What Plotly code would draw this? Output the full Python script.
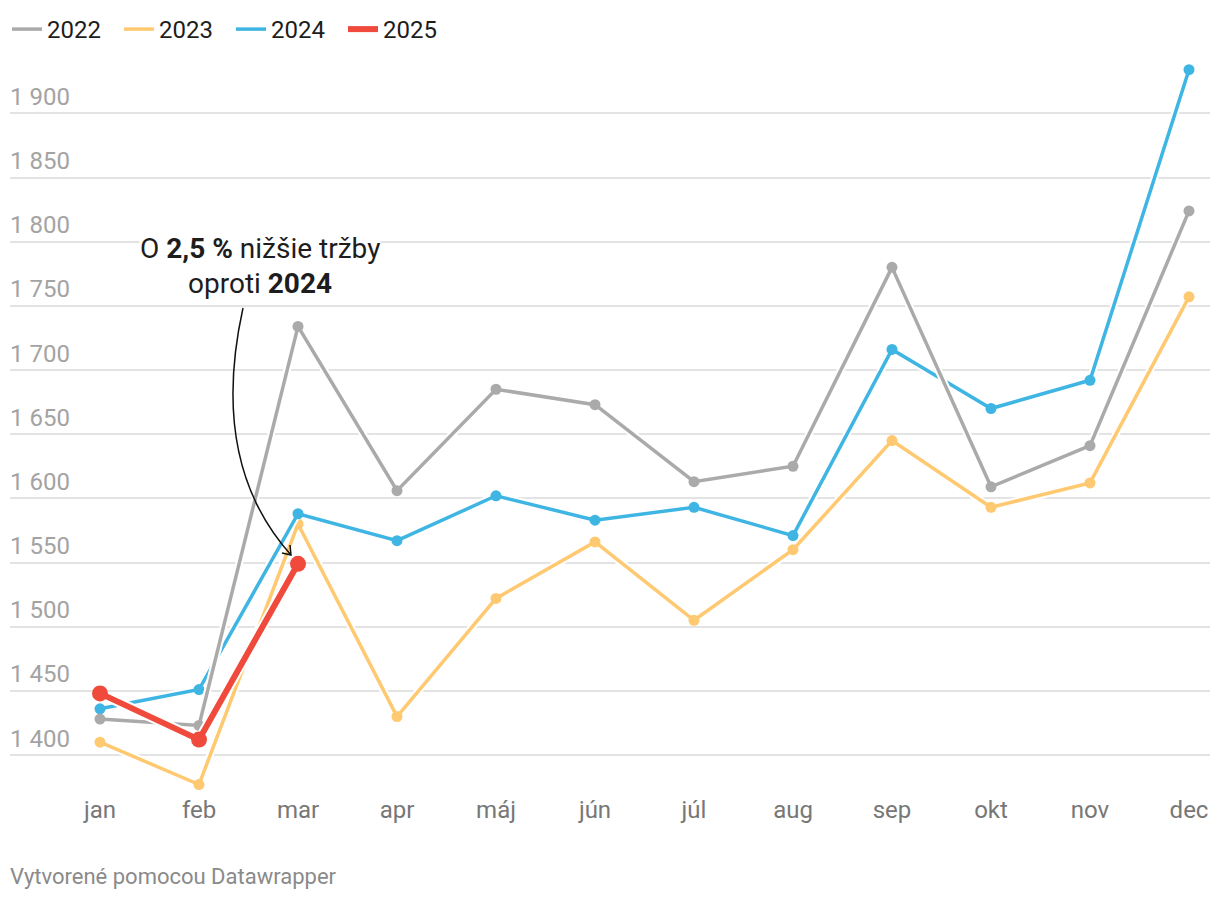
import plotly.graph_objects as go

months = ["jan", "feb", "mar", "apr", "máj", "jún", "júl", "aug", "sep", "okt", "nov", "dec"]
y2022 = [1428, 1423, 1734, 1606, 1685, 1673, 1613, 1625, 1780, 1609, 1641, 1824]
y2023 = [1410, 1377, 1580, 1430, 1522, 1566, 1505, 1560, 1645, 1593, 1612, 1757]
y2024 = [1436, 1451, 1588, 1567, 1602, 1583, 1593, 1571, 1716, 1670, 1692, 1934]
y2025 = [1448, 1412, 1549]
ytick_vals = [1400, 1450, 1500, 1550, 1600, 1650, 1700, 1750, 1800, 1850, 1900]
ytick_text = ["1 400", "1 450", "1 500", "1 550", "1 600", "1 650", "1 700", "1 750", "1 800", "1 850", "1 900"]

W, H = 1220, 900
ML, MR, MT, MB = 10, 10, 60, 110
PW, PH = W - ML - MR, H - MT - MB

def px(xp, yp):
    return (xp - ML) / PW, (H - MB - yp) / PH

FONT = "Roboto"
xs = list(range(len(months)))

series = [
    ("2023", y2023, "#fec970", 3.5, 11),
    ("2024", y2024, "#3fb5e3", 3.5, 11),
    ("2022", y2022, "#aaaaaa", 3.5, 11),
    ("2025", y2025, "#ef4a3b", 6, 16),
]
rank = {"2022": 1, "2023": 2, "2024": 3, "2025": 4}

fig = go.Figure()
for name, vals, col, lw, ms in series:
    xv = xs[:len(vals)]
    fig.add_trace(go.Scatter(x=xv, y=vals, mode="lines", line=dict(color="white", width=lw + 4),
                             showlegend=False, hoverinfo="skip", cliponaxis=False))
    fig.add_trace(go.Scatter(x=xv, y=vals, mode="lines", name=name,
                             line=dict(color=col, width=lw), cliponaxis=False, legendrank=rank[name]))
    fig.add_trace(go.Scatter(x=xv, y=vals, mode="markers", showlegend=False,
                             marker=dict(color=col, size=ms), cliponaxis=False))

# curved arrow (annotation)
p0 = px(243, 308); p1 = px(226, 385); p2 = px(224, 480); p3 = px(291, 555)
a1 = px(290, 545); a2 = px(282, 553)
path = (f"M {p0[0]},{p0[1]} C {p1[0]},{p1[1]} {p2[0]},{p2[1]} {p3[0]},{p3[1]} "
        f"M {a1[0]},{a1[1]} L {p3[0]},{p3[1]} L {a2[0]},{a2[1]}")
fig.add_shape(type="path", path=path, xref="paper", yref="paper",
              line=dict(color="#111111", width=1.5), layer="above")

l1 = px(260, 248); l2 = px(260, 283)
fig.add_annotation(xref="paper", yref="paper", x=l1[0], y=l1[1], xanchor="center", yanchor="middle",
                   text="O <b>2,5 %</b> nižšie tržby", showarrow=False, bgcolor="white", borderpad=0,
                   font=dict(family=FONT, size=28, color="#1d1d1d"))
fig.add_annotation(xref="paper", yref="paper", x=l2[0], y=l2[1], xanchor="center", yanchor="middle",
                   text="oproti <b>2024</b>", showarrow=False,
                   font=dict(family=FONT, size=28, color="#1d1d1d"))

f = px(8, 877)
fig.add_annotation(xref="paper", yref="paper", x=f[0], y=f[1], xanchor="left", yanchor="middle",
                   text="Vytvorené pomocou Datawrapper", showarrow=False,
                   font=dict(family=FONT, size=22, color="#8a8a8a"))

ylo = 1400 - (790 - 755) / 1.2833
yhi = 1400 + (755 - 60) / 1.2833
xlo = (10 - 100) / 99
xhi = (1210 - 100) / 99

fig.update_layout(
    width=W, height=H, margin=dict(l=ML, r=MR, t=MT, b=MB, autoexpand=False),
    paper_bgcolor="white", plot_bgcolor="white",
    font=dict(family=FONT),
    hovermode=False,
    legend=dict(orientation="h", xref="container", yref="container",
                x=7 / W, y=1 - 7 / H, xanchor="left", yanchor="top",
                font=dict(family=FONT, size=24, color="#1d1d1d"), itemwidth=30,
                entrywidth=67, entrywidthmode="pixels",
                traceorder="normal", bgcolor="rgba(0,0,0,0)"),
    xaxis=dict(range=[xlo, xhi], tickmode="array", tickvals=xs, ticktext=months,
               showgrid=False, zeroline=False, showline=False, automargin=False,
               ticks="", ticklabelstandoff=3,
               tickfont=dict(family=FONT, size=24, color="#777777")),
    yaxis=dict(range=[ylo, yhi], tickmode="array", tickvals=ytick_vals, ticktext=ytick_text,
               ticklabelposition="inside top", ticklabelstandoff=-3,
               showgrid=True, gridcolor="#e3e3e3", gridwidth=2,
               zeroline=False, showline=False, automargin=False,
               tickfont=dict(family=FONT, size=24, color="#a3a3a3")),
)

fig.write_html("out.html", config={"displayModeBar": False},
               post_script="document.body.style.margin='0';")
